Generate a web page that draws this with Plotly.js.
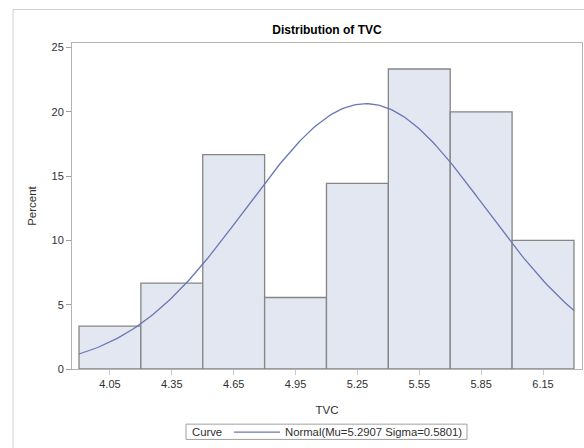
<!DOCTYPE html>
<html>
<head>
<meta charset="utf-8">
<script src="https://cdn.plot.ly/plotly-3.0.1.min.js"></script>
<style>
  html, body { margin: 0; padding: 0; background: #ffffff; }
  #chart { width: 584px; height: 448px; }
</style>
</head>
<body>
<div id="chart"></div>
<script>
// Histogram of TVC: bin midpoints and percent of observations per bin
const binMidpoints = [4.05, 4.35, 4.65, 4.95, 5.25, 5.55, 5.85, 6.15];
const percentValues = [3.33, 6.67, 16.67, 5.56, 14.44, 23.33, 20.0, 10.0];
const binWidth = 0.3;

// Fitted normal curve parameters (shown in the legend)
const normalMu = 5.2907;
const normalSigma = 0.5801;

// Axis tick labels
const xTickValues = [4.05, 4.35, 4.65, 4.95, 5.25, 5.55, 5.85, 6.15];
const xTickLabels = ['4.05', '4.35', '4.65', '4.95', '5.25', '5.55', '5.85', '6.15'];
const yTickValues = [0, 5, 10, 15, 20, 25];

// Normal density scaled to percent per bin, sampled across the histogram span
const curveX = [];
const curveY = [];
const lo = binMidpoints[0] - binWidth / 2;
const hi = binMidpoints[binMidpoints.length - 1] + binWidth / 2;
const steps = 200;
for (let i = 0; i <= steps; i++) {
  const x = lo + (hi - lo) * i / steps;
  const z = (x - normalMu) / normalSigma;
  const dens = Math.exp(-0.5 * z * z) / (normalSigma * Math.sqrt(2 * Math.PI));
  curveX.push(x);
  curveY.push(100 * binWidth * dens);
}

const fontFamily = '"Liberation Sans", Arial, sans-serif';
const textColor = '#303030';

// plot area in pixels: left 72, right 582, top 43, bottom 374
const px = v => (v - 72) / 510;
const py = v => (374 - v) / 331;

const bars = {
  type: 'bar',
  x: binMidpoints,
  y: percentValues,
  width: binWidth,
  marker: { color: '#e3e7f1', line: { color: '#858585', width: 1.3 } },
  showlegend: false,
  hoverinfo: 'x+y'
};

const curve = {
  type: 'scatter',
  mode: 'lines',
  x: curveX,
  y: curveY,
  name: 'Normal(Mu=' + normalMu.toFixed(4) + ' Sigma=' + normalSigma.toFixed(4) + ')',
  line: { color: '#6a78b4', width: 1.3 },
  showlegend: true
};

const layout = {
  width: 584,
  height: 448,
  margin: { l: 72, r: 2, t: 43, b: 74 },
  paper_bgcolor: '#ffffff',
  plot_bgcolor: '#ffffff',
  font: { family: fontFamily, size: 11, color: textColor },
  title: {
    text: '<b>Distribution of TVC</b>',
    font: { family: fontFamily, size: 12, color: '#000000' },
    x: 327 / 584,
    xanchor: 'center',
    y: 1 - 30 / 448,
    yanchor: 'middle'
  },
  xaxis: {
    range: [3.866, 6.339],
    tickvals: xTickValues,
    ticktext: xTickLabels,
    ticks: 'outside',
    ticklen: 5,
    tickcolor: '#c8c8c8',
    tickfont: { family: fontFamily, size: 11, color: textColor },
    showline: true,
    linecolor: '#b4b4b4',
    linewidth: 1,
    mirror: true,
    showgrid: false,
    zeroline: false,
    title: { text: 'TVC', font: { family: fontFamily, size: 11.5, color: textColor }, standoff: 16 }
  },
  yaxis: {
    range: [0, 25.35],
    tickvals: yTickValues,
    ticks: 'outside',
    ticklen: 5,
    tickcolor: '#a0a0a0',
    tickfont: { family: fontFamily, size: 11, color: textColor },
    showline: true,
    linecolor: '#b4b4b4',
    linewidth: 1,
    mirror: true,
    showgrid: false,
    zeroline: false,
    title: { text: 'Percent', font: { family: fontFamily, size: 11.5, color: textColor }, standoff: 12 }
  },
  legend: {
    orientation: 'h',
    x: px(229),
    xanchor: 'left',
    y: py(438),
    yanchor: 'middle',
    borderwidth: 0,
    bgcolor: 'rgba(0,0,0,0)',
    itemwidth: 46,
    font: { family: fontFamily, size: 11.3, color: textColor }
  },
  annotations: [
    {
      // legend label
      text: 'Curve', xref: 'paper', yref: 'paper',
      x: px(190), y: py(438), xanchor: 'left', yanchor: 'middle',
      showarrow: false,
      font: { family: fontFamily, size: 11.3, color: textColor }
    }
  ],
  shapes: [
    {
      // outer graph border
      type: 'rect', xref: 'paper', yref: 'paper',
      x0: px(13), x1: 1.2,
      y0: -0.4, y1: py(9),
      line: { color: '#d0d0d0', width: 1 },
      fillcolor: 'rgba(0,0,0,0)',
      layer: 'below'
    },
    {
      // legend frame
      type: 'rect', xref: 'paper', yref: 'paper',
      x0: px(186), x1: px(467),
      y0: py(445.5), y1: py(430),
      line: { color: '#a0a0a0', width: 1 },
      fillcolor: 'rgba(0,0,0,0)',
      layer: 'below'
    }
  ],
  bargap: 0
};

Plotly.newPlot('chart', [bars, curve], layout, { displayModeBar: false, staticPlot: true });
</script>
</body>
</html>
